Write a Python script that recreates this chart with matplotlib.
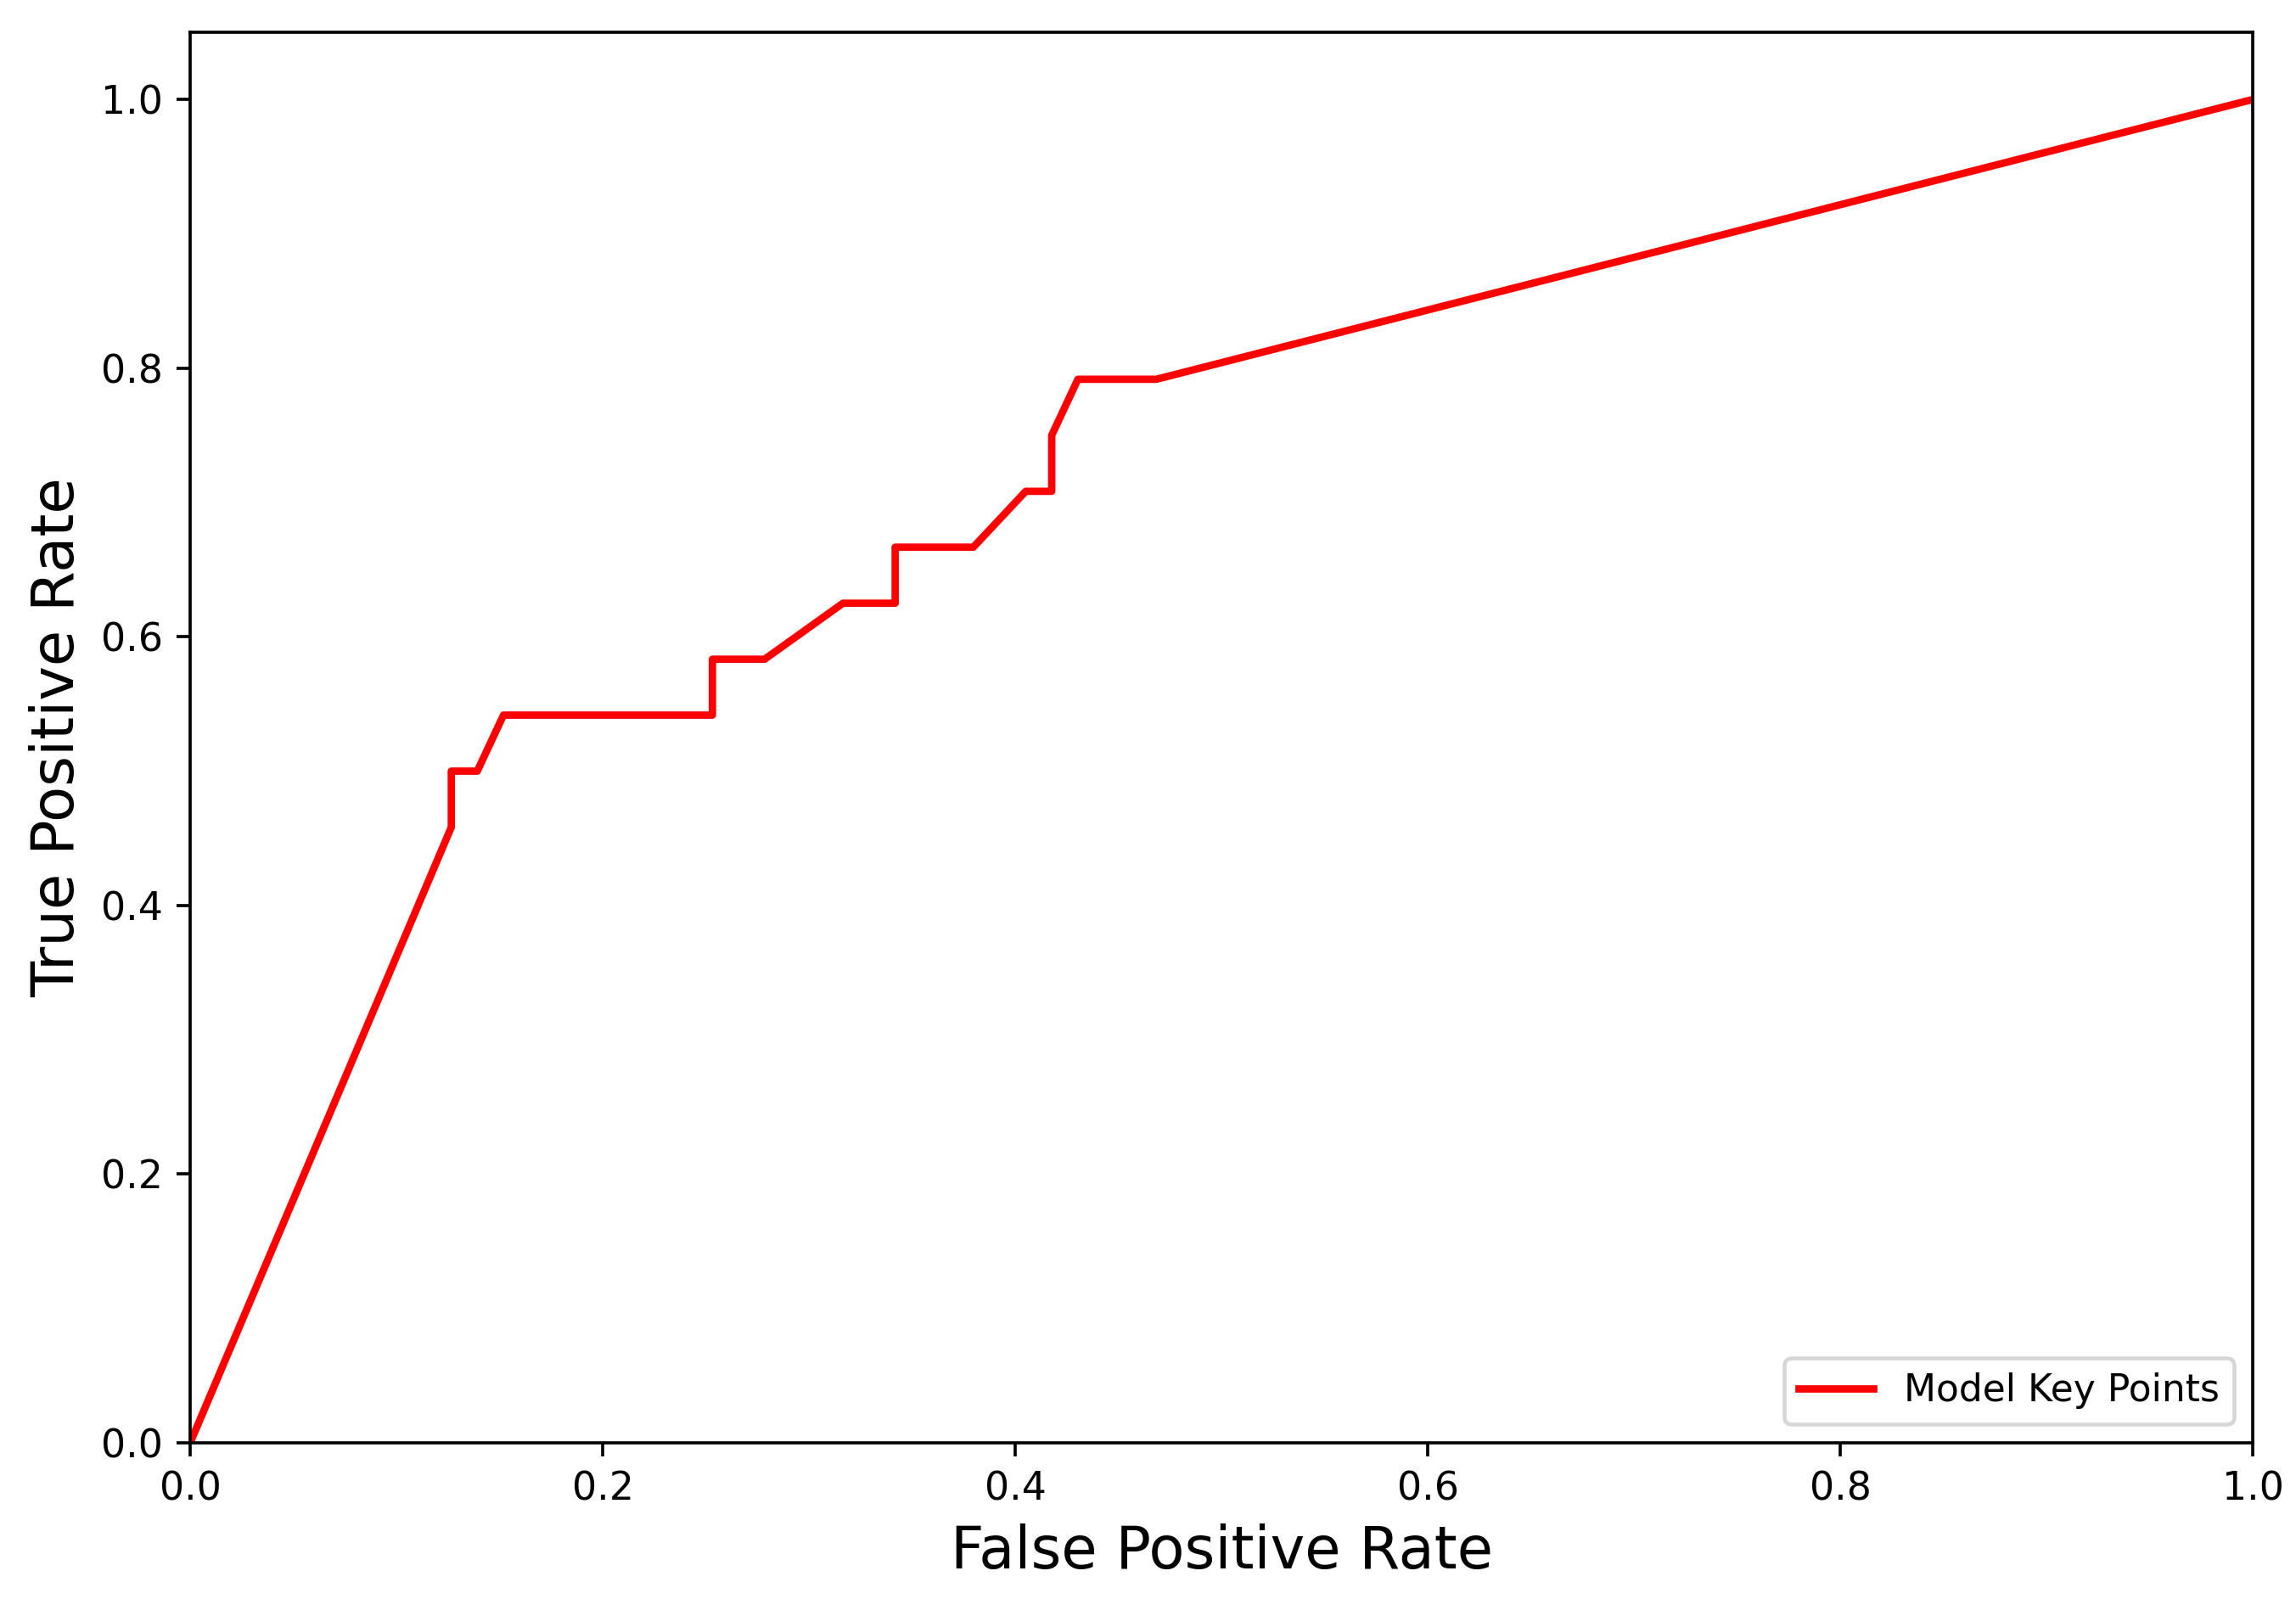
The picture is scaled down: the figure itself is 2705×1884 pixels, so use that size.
import matplotlib
matplotlib.use("Agg")
import matplotlib.pyplot as plt

fpr = [0.0, 0.1266, 0.1266, 0.1392, 0.1519, 0.2532, 0.2532, 0.2785, 0.3165,
       0.3418, 0.3418, 0.3797, 0.4051, 0.4177, 0.4177, 0.4304, 0.4684, 1.0]
tpr = [0.0, 0.4583, 0.5, 0.5, 0.5417, 0.5417, 0.5833, 0.5833, 0.625,
       0.625, 0.6667, 0.6667, 0.7083, 0.7083, 0.75, 0.7917, 0.7917, 1.0]
series_label = "Model Key Points"
x_label = "False Positive Rate"
y_label = "True Positive Rate"

fig = plt.figure(figsize=(2706 / 330, 1884 / 330), dpi=330)
ax = fig.add_axes([0.0828, 0.0977, 0.9808 - 0.0828, 0.9798 - 0.0977])
ax.plot(fpr, tpr, color="red", lw=1.9, label=series_label)
ax.set_xlim(0, 1)
ax.set_ylim(0, 1.05)
ax.set_xlabel(x_label, fontsize=15)
ax.set_ylabel(y_label, fontsize=15)
ax.legend(loc="lower right", fontsize=9.6)
fig.savefig("out.png", dpi=330)
